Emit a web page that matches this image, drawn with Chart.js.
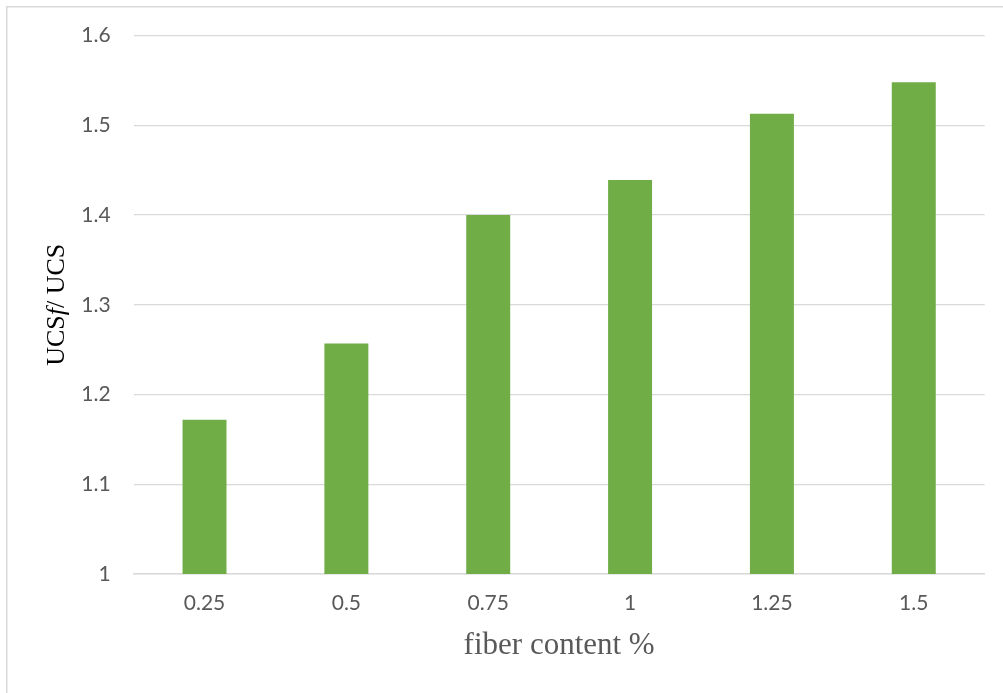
<!DOCTYPE html>
<html>
<head>
<meta charset="utf-8">
<script src="https://cdn.jsdelivr.net/npm/chart.js@4.4.1/dist/chart.umd.min.js"></script>
<style>
  html, body { margin: 0; padding: 0; background: #ffffff; }
  #wrap { position: relative; width: 1003px; height: 693px; }
</style>
</head>
<body>
<div id="wrap"><canvas id="c" width="1003" height="693"></canvas></div>
<script>
// Fiber content (%) on the x axis
const categories = ['0.25', '0.5', '0.75', '1', '1.25', '1.5'];
// Strength ratio UCSf / UCS for each fiber content
const ratioValues = [1.172, 1.257, 1.400, 1.439, 1.513, 1.548];
// Value-axis ticks
const yTicks = [1, 1.1, 1.2, 1.3, 1.4, 1.5, 1.6];
const yTickLabels = ['1', '1.1', '1.2', '1.3', '1.4', '1.5', '1.6'];

const xTitle = 'fiber content %';
// y title pieces: the "f" subscript-like mark is set in italics
const yTitleParts = [
  { text: 'UCS', italic: false },
  { text: 'f', italic: true },
  { text: '/ UCS', italic: false }
];

const GRID = '#d9d9d9';
const TICK = '#595959';

// Frame lines along the top and left edge of the chart
const framePlugin = {
  id: 'frame',
  beforeDraw(chart) {
    const ctx = chart.ctx;
    ctx.save();
    ctx.fillStyle = '#ffffff';
    ctx.fillRect(0, 0, chart.width, chart.height);
    ctx.strokeStyle = GRID;
    ctx.lineWidth = 1.5;
    ctx.beginPath();
    ctx.moveTo(6.75, chart.height);
    ctx.lineTo(6.75, 6.75);
    ctx.lineTo(chart.width, 6.75);
    ctx.stroke();
    ctx.restore();
  }
};

// Rotated value-axis title with mixed upright / italic runs
const yTitlePlugin = {
  id: 'yTitle',
  afterDraw(chart) {
    const ctx = chart.ctx;
    const area = chart.chartArea;
    const size = 26;
    const fam = '"Liberation Serif", "Times New Roman", serif';
    ctx.save();
    let total = 0;
    const widths = yTitleParts.map(p => {
      ctx.font = (p.italic ? 'italic ' : '') + size + 'px ' + fam;
      const w = ctx.measureText(p.text).width;
      total += w;
      return w;
    });
    ctx.translate(63.5, (area.top + area.bottom) / 2);
    ctx.rotate(-Math.PI / 2);
    ctx.fillStyle = '#000000';
    ctx.textBaseline = 'alphabetic';
    ctx.textAlign = 'left';
    let x = -total / 2;
    yTitleParts.forEach((p, i) => {
      ctx.font = (p.italic ? 'italic ' : '') + size + 'px ' + fam;
      ctx.fillText(p.text, x, 0);
      x += widths[i];
    });
    ctx.restore();
  }
};

new Chart(document.getElementById('c'), {
  type: 'bar',
  data: {
    labels: categories,
    datasets: [{
      data: ratioValues,
      backgroundColor: '#70ad47',
      borderWidth: 0,
      barPercentage: 0.31,
      categoryPercentage: 1.0
    }]
  },
  options: {
    responsive: false,
    animation: false,
    devicePixelRatio: 1,
    layout: { padding: { left: 0, right: 18.3, top: 35, bottom: 0 } },
    plugins: {
      legend: { display: false },
      tooltip: { enabled: false },
      title: { display: false }
    },
    scales: {
      x: {
        offset: true,
        grid: { display: false, drawTicks: false },
        border: { display: true, color: GRID, width: 1.5 },
        ticks: {
          color: TICK,
          padding: 17,
          font: { family: 'Lato, "Open Sans", sans-serif', size: 21 }
        },
        title: {
          display: true,
          text: xTitle,
          color: TICK,
          padding: { top: 0, bottom: 29 },
          font: { family: '"Liberation Serif", "Times New Roman", serif', size: 31 }
        },
        afterFit(scale) { scale.height = 119; }
      },
      y: {
        min: yTicks[0],
        max: yTicks[yTicks.length - 1],
        grid: { color: GRID, lineWidth: 1.25, drawTicks: false },
        border: { display: false },
        ticks: {
          color: TICK,
          padding: 23,
          font: { family: 'Lato, "Open Sans", sans-serif', size: 21 },
          callback(value) {
            const i = yTicks.findIndex(t => Math.abs(t - value) < 1e-9);
            return i >= 0 ? yTickLabels[i] : '';
          }
        },
        afterBuildTicks(scale) {
          scale.ticks = yTicks.map(v => ({ value: v }));
        },
        afterFit(scale) { scale.width = 133.6; }
      }
    }
  },
  plugins: [framePlugin, yTitlePlugin]
});
</script>
</body>
</html>
